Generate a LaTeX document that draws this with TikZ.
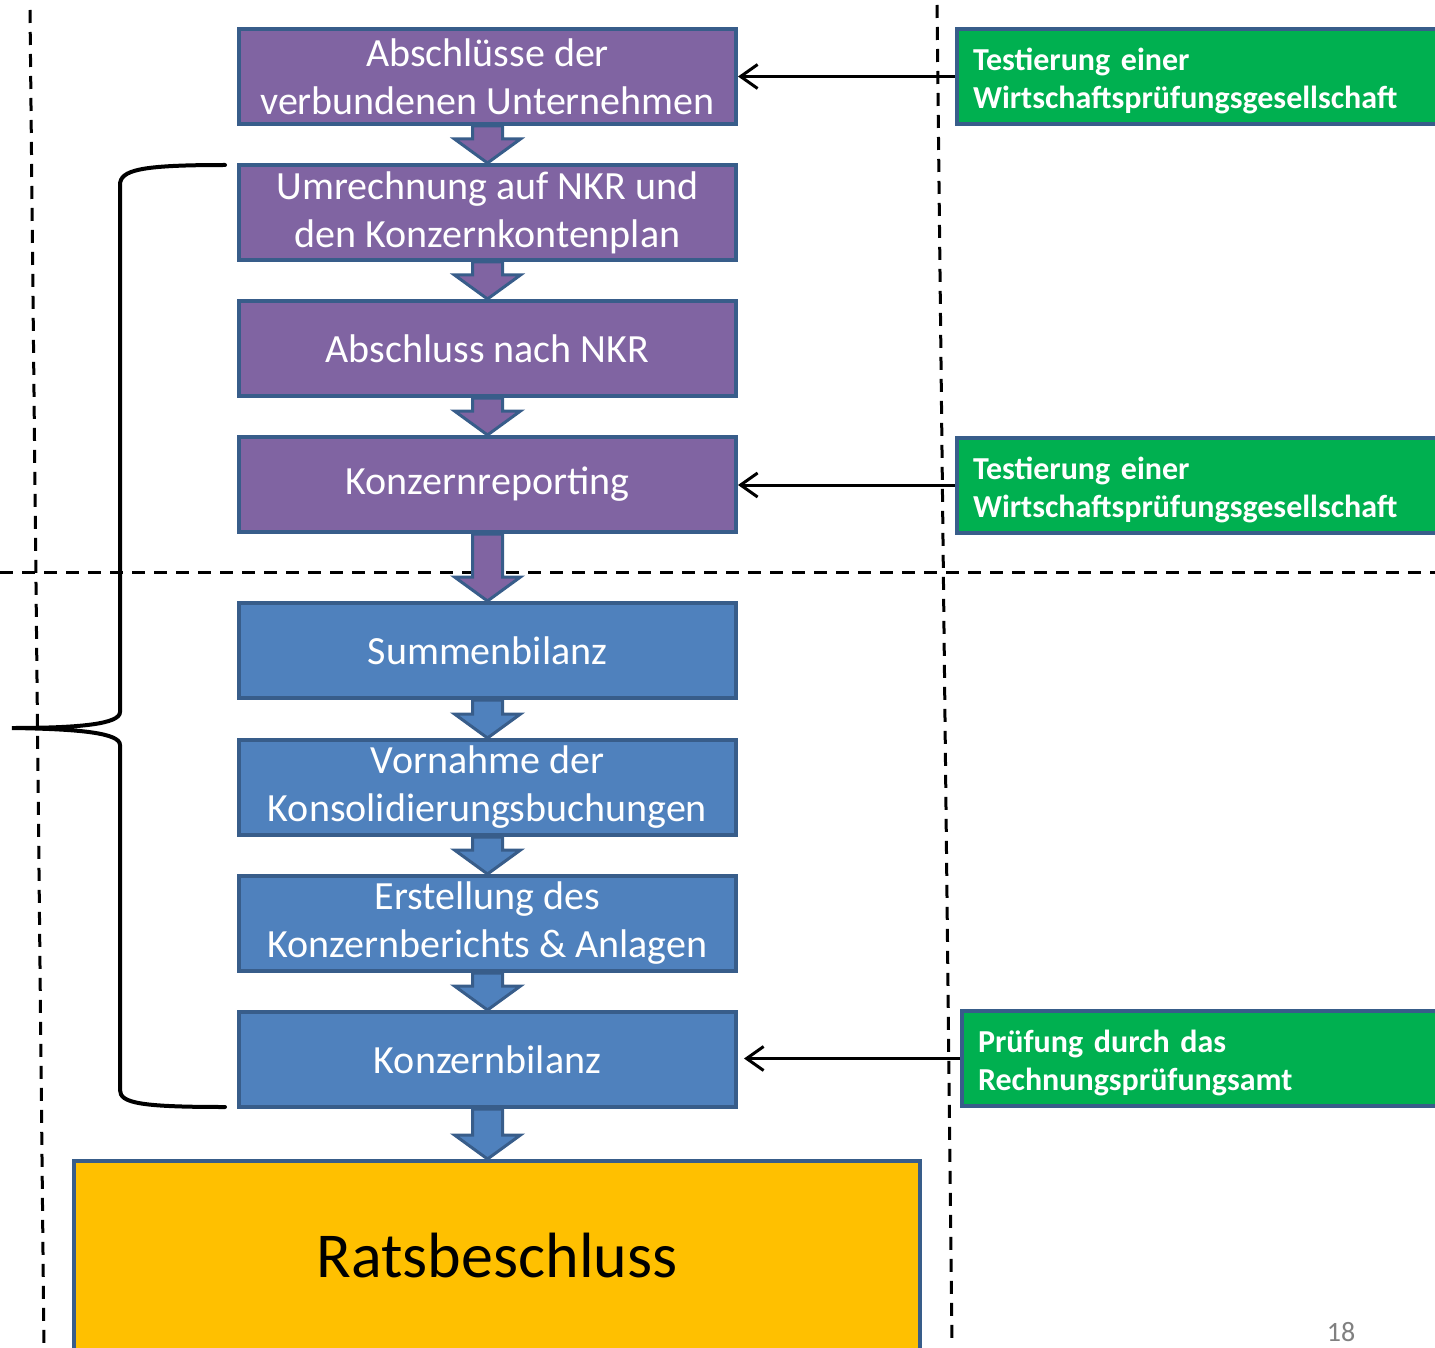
\documentclass[tikz,border=0pt]{standalone}
\usepackage{fontspec}
\setmainfont{Carlito}
\usetikzlibrary{calc,arrows.meta}

\definecolor{boxline}{RGB}{56,93,138}
\definecolor{lila}{RGB}{128,100,162}
\definecolor{hblau}{RGB}{79,129,189}
\definecolor{gelb}{RGB}{255,192,0}
\definecolor{gruen}{RGB}{0,176,80}

% block arrow from the bottom of one box to the top of the next
\newcommand{\flowarrow}[3]{%
  \coordinate (spitze) at (#1.south |- #2.north);
  \filldraw[blockarrow, fill=#3] ($(#1.south)+(-15,0)$) -- ($(spitze)+(-15,-24)$)
    -- ($(spitze)+(-33,-24)$) -- (spitze) -- ($(spitze)+(33,-24)$)
    -- ($(spitze)+(15,-24)$) -- ($(#1.south)+(15,0)$) -- cycle;}

\begin{document}
\begin{tikzpicture}[x=1pt, y=-1pt,
    flowbox/.style={draw=boxline, line width=4pt, minimum width=497pt, minimum height=95pt,
        inner sep=0pt, align=center, text=white, font=\fontsize{40}{48}\selectfont},
    lilabox/.style={flowbox, fill=lila},
    blaubox/.style={flowbox, fill=hblau},
    testbox/.style={draw=boxline, line width=4pt, fill=gruen, anchor=west, minimum height=95pt,
        text width=470pt, inner xsep=16pt, inner ysep=0pt, align=left, text=white, text depth=34pt,
        font=\fontsize{32}{38}\selectfont\bfseries},
    blockarrow/.style={draw=boxline, line width=3pt},
    hinweis/.style={line width=3pt, -{Straight Barb[length=17pt, width=24pt]}},
    trenner/.style={line width=3pt, dash pattern=on 13pt off 9pt}]
    \useasboundingbox (0,0) rectangle (1435,1348);

    % separating lines
    \draw[trenner] (30,10) -- (44,1348);
    \draw[trenner] (937,5) -- (952,1343);
    \draw[trenner] (0,572) -- (1435,572);

    % single statements
    \node[lilabox] (abschl) at (487.5,76.5) {Abschlüsse der\\verbundenen Unternehmen};
    \node[lilabox] (umrech) at (487.5,212.5) {Umrechnung auf NKR und\\den Konzernkontenplan};
    \node[lilabox] (nkr) at (487.5,348.5) {Abschluss nach NKR};
    \node[lilabox] (reporting) at (487.5,484.5) {Konzernreporting};

    % group level
    \node[blaubox] (summen) at (487.5,650.5) {Summenbilanz};
    \node[blaubox] (vornahme) at (487.5,787.5) {Vornahme der\\Konsolidierungsbuchungen};
    \node[blaubox] (erstellung) at (487.5,923.5) {Erstellung des\\Konzernberichts \& Anlagen};
    \node[blaubox] (konzern) at (487.5,1059.5) {Konzernbilanz};
    \node[draw=boxline, line width=4pt, fill=gelb, minimum width=846pt, minimum height=190pt,
        font=\fontsize{64}{72}\selectfont] (rat) at (497,1256) {Ratsbeschluss};

    \flowarrow{abschl}{umrech}{lila}
    \flowarrow{umrech}{nkr}{lila}
    \flowarrow{nkr}{reporting}{lila}
    \flowarrow{reporting}{summen}{lila}
    \flowarrow{summen}{vornahme}{hblau}
    \flowarrow{vornahme}{erstellung}{hblau}
    \flowarrow{erstellung}{konzern}{hblau}
    \flowarrow{konzern}{rat}{hblau}

    % audits
    \node[testbox] (test1) at (955,76.5) {Testierung einer\\Wirtschaftsprüfungsgesellschaft};
    \node[testbox] (test2) at (955,485) {Testierung einer\\Wirtschaftsprüfungsgesellschaft};
    \node[testbox] (pruefung) at (960,1058.5) {Prüfung durch das\\Rechnungsprüfungsamt};
    \draw[hinweis] (test1.west) -- (test1.west -| abschl.east);
    \draw[hinweis] (test2.west) -- (test2.west -| reporting.east);
    \draw[hinweis] (pruefung.west) -- ($(pruefung.west -| konzern.east)+(6,0)$);

    % brace
    \draw[line width=4pt, line cap=round] (225,165) .. controls (140,165) and (120,170) .. (120,185)
        -- (120,712) .. controls (120,724) and (80,728) .. (12,728)
        .. controls (80,729) and (120,733) .. (120,745)
        -- (120,1090) .. controls (120,1103) and (140,1107) .. (225,1107);

    \node[text=gray, font=\fontsize{28}{32}\selectfont] (seite) at (1341,1332) {18};
\end{tikzpicture}
\end{document}
